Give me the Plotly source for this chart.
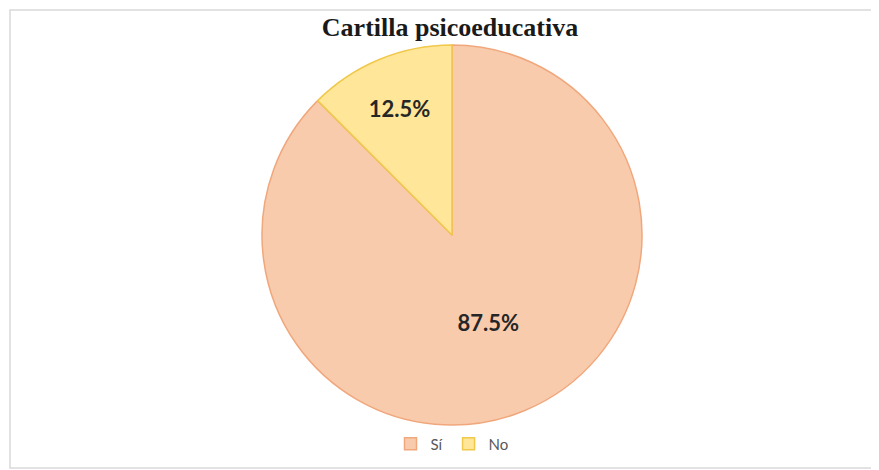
import plotly.graph_objects as go

labels = ["Sí", "No"]
values = [87.5, 12.5]
title_text = "Cartilla psicoeducativa"

fill_colors = ["#F8CBAD", "#FFE699"]
line_colors = ["#F1A77C", "#F0C84A"]

# the page body has an 8px default margin; work in window pixels and convert
OFF = 8
W, H = 879 - OFF, 470 - OFF
ml, mr, mt, mb = 10 - OFF, 1, 10 - OFF, 2
pw, ph = W - ml - mr, H - mt - mb


def px_x(x):
    return (x - OFF - ml) / pw


def px_y(y):
    return (H - mb - (y - OFF)) / ph


cx, cy, d = 452, 235, 380
x0, x1 = px_x(cx - d / 2), px_x(cx + d / 2)
y0, y1 = px_y(cy + d / 2), px_y(cy - d / 2)

fig = go.Figure(
    go.Pie(
        labels=labels,
        values=values,
        sort=False,
        direction="clockwise",
        rotation=0,
        marker=dict(colors=fill_colors, line=dict(color=line_colors, width=1.5)),
        texttemplate="%{value:.1f}%",
        textposition="inside",
        insidetextorientation="horizontal",
        textfont=dict(family="Lato, Open Sans, sans-serif", size=22, color="#262626", weight="bold"),
        domain=dict(x=[x0, x1], y=[y0, y1]),
        hoverinfo="label+percent",
    )
)

fig.update_layout(
    width=W,
    height=H,
    margin=dict(l=ml, r=mr, t=mt, b=mb),
    paper_bgcolor="white",
    plot_bgcolor="white",
    title=dict(
        text="<b>" + title_text + "</b>",
        x=(450 - OFF) / W,
        xanchor="center",
        y=1 - (27 - OFF) / H,
        yanchor="middle",
        font=dict(family="Liberation Serif, Times New Roman, serif", size=26, color="#1a1a1a"),
    ),
    showlegend=True,
    legend=dict(
        orientation="h",
        x=px_x(452),
        xanchor="center",
        y=px_y(444),
        yanchor="middle",
        font=dict(family="Lato, Open Sans, sans-serif", size=15, color="#595959"),
        itemwidth=30,
    ),
    shapes=[
        dict(
            type="rect",
            xref="paper",
            yref="paper",
            x0=0,
            x1=1,
            y0=0,
            y1=1,
            line=dict(color="#D9D9D9", width=1.5),
            layer="below",
        )
    ],
)

fig.write_html("out.html")
